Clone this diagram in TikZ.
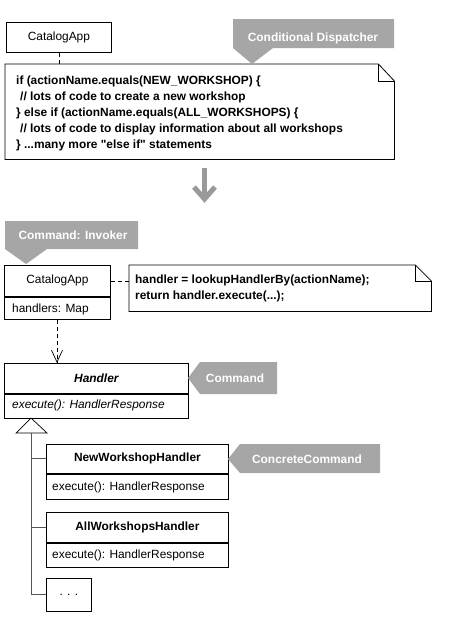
\documentclass[tikz,border=0pt]{standalone}
\usepackage{fontspec}
\setmainfont{Liberation Sans}[Ligatures=TeXOff]
\usetikzlibrary{arrows.meta}
\definecolor{callgray}{HTML}{A6A6A6}
\definecolor{arrgray}{HTML}{9A9A9A}
\definecolor{linegray}{HTML}{555555}
\begin{document}
\begin{tikzpicture}[x=1pt,y=-1pt,
  every node/.style={font=\fontsize{11.9}{13}\selectfont},
  box/.style={draw, line width=0.8pt, inner sep=0pt, anchor=north west},
  code/.style={anchor=base west, inner sep=0pt, font=\fontsize{11.9}{13}\selectfont\bfseries},
  calltext/.style={text=white, inner sep=0pt, anchor=base, font=\fontsize{11.9}{13}\selectfont\bfseries},
  callout/.style={fill=callgray, draw=none},
  notebox/.style={inner sep=0pt, anchor=north west},
  noteline/.style={line width=0.8pt},
  foldline/.style={line width=0.6pt},
  dep/.style={dashed, dash pattern=on 4pt off 3pt, line width=0.7pt},
  conn/.style={line width=0.7pt, draw=linegray},
]
\useasboundingbox (0,0) rectangle (449,619);

% ---------- top section ----------
\node[box, minimum width=105pt, minimum height=30pt] (app1) at (6,22) {CatalogApp};

\node[notebox, minimum width=389pt, minimum height=95pt] (note1) at (5,64) {};
\draw[noteline] (note1.north west) -- ([xshift=-16pt]note1.north east)
  -- ([yshift=-17pt]note1.north east) -- (note1.south east) -- (note1.south west) -- cycle;
\draw[foldline] ([xshift=-16pt]note1.north east) -- ([xshift=-16pt,yshift=-17pt]note1.north east)
  -- ([yshift=-17pt]note1.north east);

\node[code] (c1) at (16,84) {if (actionName.equals(NEW\_WORKSHOP) \{};
\node[code] (c2) at (20,100) {// lots of code to create a new workshop};
\node[code] (c3) at (16,116) {\} else if (actionName.equals(ALL\_WORKSHOPS) \{};
\node[code] (c4) at (20,132) {// lots of code to display information about all workshops};
\node[code] (c5) at (16,148) {\} ...many more "else if" statements};

\draw[dep] (app1.south) -- (app1.south |- note1.north);

\fill[callout] (233,19) -- (394,19) -- (394,48) -- (273,48) -- (252,64) -- (233,48) -- cycle;
\node[calltext] (cd) at (313,41) {Conditional Dispatcher};

% ---------- big arrow ----------
\coordinate (arrA) at (204.5,168);
\coordinate (arrB) at (204.5,199);
\draw[arrgray, line width=5pt] (arrA) -- (arrB);
\draw[arrgray, line width=5pt, miter limit=10] (194,187) -- (204.5,199) -- (215,187);

% ---------- invoker ----------
\fill[callout] (5,221) -- (138,221) -- (138,249) -- (47,249) -- (26,264) -- (5,249) -- cycle;
\node[calltext] (ci) at (73,239) {Command: Invoker};

\node[box, minimum width=106pt, minimum height=31pt] (app2) at (4,265) {CatalogApp};
\node[box, minimum width=106pt, minimum height=22pt, anchor=north west] (app2b) at (app2.south west) {};
\node[anchor=base west, inner sep=0pt] (app2t) at (12,312) {handlers: Map};

\node[notebox, minimum width=302pt, minimum height=46pt] (note2) at (129,265) {};
\draw[noteline] (note2.north west) -- ([xshift=-16pt]note2.north east)
  -- ([yshift=-16pt]note2.north east) -- (note2.south east) -- (note2.south west) -- cycle;
\draw[foldline] ([xshift=-16pt]note2.north east) -- ([xshift=-16pt,yshift=-16pt]note2.north east)
  -- ([yshift=-16pt]note2.north east);
\node[code] (d1) at (135,283) {handler = lookupHandlerBy(actionName);};
\node[code] (d2) at (135,299) {return handler.execute(...);};

\draw[dep] (app2.east |- 0,281) -- (note2.west |- 0,281);

% ---------- handler ----------
\node[box, minimum width=184pt, minimum height=30pt] (h) at (4,363) {\bfseries\itshape Handler};
\node[box, minimum width=184pt, minimum height=24pt, anchor=north west] (hb) at (h.south west) {};
\node[anchor=base west, inner sep=0pt] (ht) at (12,408) {\itshape execute(): HandlerResponse};

\draw[dep, -{Straight Barb[length=12pt, width=11pt, line width=0.7pt]}] (app2b.south -| 57,0) -- (h.north -| 57,0);

\fill[callout] (200,362) -- (277,362) -- (277,394) -- (200,394) -- (188,378) -- cycle;
\node[calltext] (cc) at (235,382) {Command};

% ---------- concrete ----------
\node[box, minimum width=182pt, minimum height=29pt] (nw) at (46,444) {\bfseries NewWorkshopHandler};
\node[box, minimum width=182pt, minimum height=25pt, anchor=north west] (nwb) at (nw.south west) {};
\node[anchor=base west, inner sep=0pt] (nwt) at (52,490) {execute(): HandlerResponse};

\node[box, minimum width=182pt, minimum height=30pt] (aw) at (46,512) {\bfseries AllWorkshopsHandler};
\node[box, minimum width=182pt, minimum height=24pt, anchor=north west] (awb) at (aw.south west) {};
\node[anchor=base west, inner sep=0pt] (awt) at (52,558) {execute(): HandlerResponse};

\node[box, minimum width=45pt, minimum height=33pt] (more) at (46,578) {. . .};

\fill[callout] (240,444) -- (380,444) -- (380,473) -- (240,473) -- (228,459) -- cycle;
\node[calltext] (ccc) at (307,463) {ConcreteCommand};

% inheritance tree
\coordinate (tri) at (31,418);
\coordinate (tribase) at (31,433);
\coordinate (trunk) at (31,594);
\draw[line width=0.7pt] (tri) -- (16,433) -- (47,433) -- cycle;
\draw[conn] (tribase) -- (trunk);
\draw[conn] (31,458) -- (nw.west |- 0,458);
\draw[conn] (31,527) -- (aw.west |- 0,527);
\draw[conn] (trunk) -- (more.west |- trunk);
\end{tikzpicture}
\end{document}
